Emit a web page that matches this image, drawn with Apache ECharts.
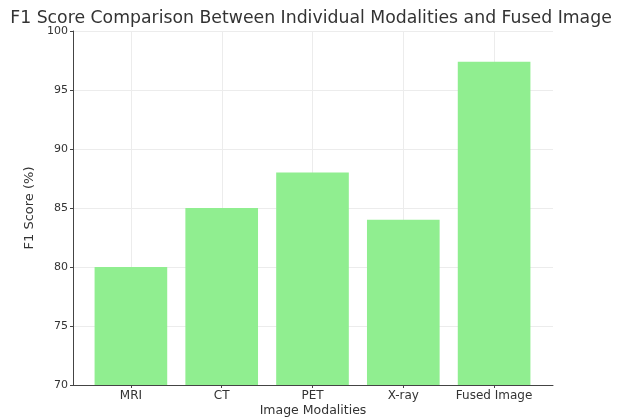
<!DOCTYPE html>
<html>
<head>
<meta charset="utf-8">
<script src="https://cdn.jsdelivr.net/npm/echarts@6/dist/echarts.min.js"></script>
<style>
  html, body { margin: 0; padding: 0; background: #fff; }
  #chart { width: 622px; height: 420px; }
</style>
</head>
<body>
<div id="chart"></div>
<script>
// F1 scores per imaging modality
const modalities = ['MRI', 'CT', 'PET', 'X-ray', 'Fused Image'];
const f1Scores = [80, 85, 88, 84, 97.4];
const yTicks = [70, 75, 80, 85, 90, 95, 100];

const FONT = 'DejaVu Sans';
const TEXT = '#333';
const GRIDLINE = '#ececec';

const chart = echarts.init(document.getElementById('chart'), null, { renderer: 'canvas' });

const plotTop = 31, plotBottom = 35;
const yMin = yTicks[0], yMax = yTicks[yTicks.length - 1];

chart.setOption({
  animation: false,
  title: {
    text: 'F1 Score Comparison Between Individual Modalities and Fused Image',
    left: 'center',
    top: 5,
    textStyle: { fontFamily: FONT, fontSize: 17.3, fontWeight: 'normal', color: TEXT }
  },
  grid: [
    // full plotting frame (spines, horizontal grid)
    { left: 73, right: 69, top: plotTop, bottom: plotBottom, outerBoundsMode: 'none' },
    // category bands holding the bars
    { left: 85.5, right: 82.5, top: plotTop, bottom: plotBottom, outerBoundsMode: 'none' },
    // first to last category centre (vertical grid lines)
    { left: 131, right: 128, top: plotTop, bottom: plotBottom, outerBoundsMode: 'none' }
  ],
  xAxis: [
    {
      gridIndex: 0, type: 'value', min: 0, max: 1,
      axisLine: { show: true, lineStyle: { color: '#444', width: 1 } },
      axisTick: { show: false }, axisLabel: { show: false }, splitLine: { show: false },
      name: 'Image Modalities', nameLocation: 'middle', nameGap: 19,
      nameTextStyle: { fontFamily: FONT, fontSize: 12.5, color: TEXT }
    },
    {
      gridIndex: 1, type: 'category', data: modalities,
      axisLine: { show: false },
      axisTick: { show: true, alignWithLabel: true, interval: 0, length: 3, lineStyle: { color: '#444' } },
      axisLabel: { interval: 0, fontFamily: FONT, fontSize: 12, color: TEXT, margin: 5 },
      splitLine: { show: false }
    },
    {
      gridIndex: 2, type: 'category', data: modalities, boundaryGap: false,
      axisLine: { show: false }, axisTick: { show: false }, axisLabel: { show: false },
      splitLine: { show: true, interval: 0, lineStyle: { color: GRIDLINE, width: 1 } }
    }
  ],
  yAxis: [
    {
      gridIndex: 0, type: 'value', min: yMin, max: yMax, interval: 5,
      axisLine: { show: true, lineStyle: { color: '#444', width: 1 } },
      axisTick: { show: true, length: 3, lineStyle: { color: '#444' } },
      axisLabel: { fontFamily: FONT, fontSize: 11, color: TEXT, margin: 5 },
      splitLine: { show: true, lineStyle: { color: GRIDLINE, width: 1 } },
      name: 'F1 Score (%)', nameLocation: 'middle', nameGap: 32,
      nameTextStyle: { fontFamily: FONT, fontSize: 13, color: TEXT }
    },
    { gridIndex: 1, type: 'value', min: yMin, max: yMax, interval: 5, show: false },
    { gridIndex: 2, type: 'value', min: yMin, max: yMax, interval: 5, show: false }
  ],
  series: [{
    type: 'bar',
    xAxisIndex: 1, yAxisIndex: 1,
    data: f1Scores,
    barWidth: '80%',
    itemStyle: { color: '#90ee90' }
  }]
});
</script>
</body>
</html>
